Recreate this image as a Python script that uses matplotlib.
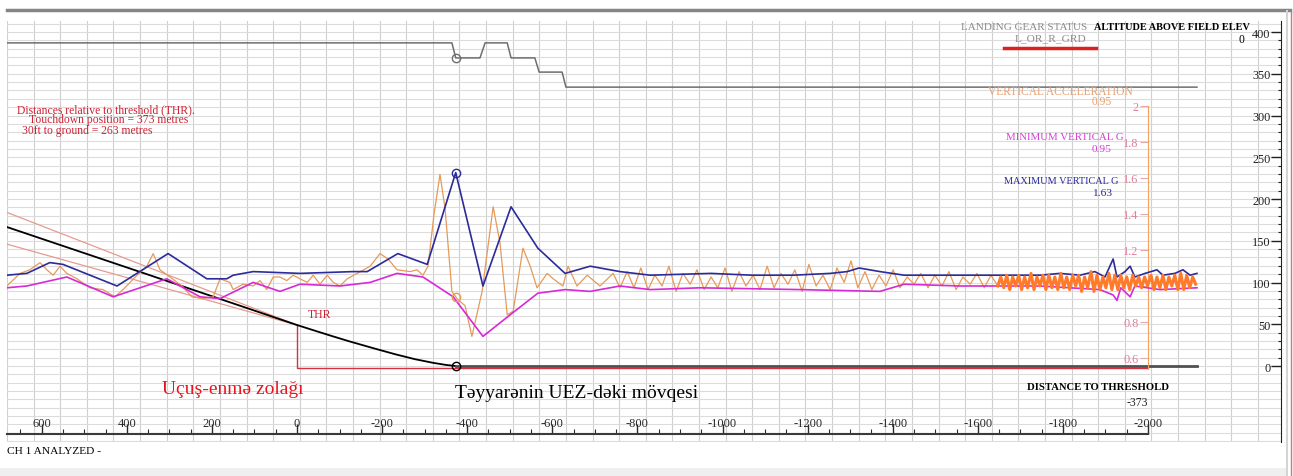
import matplotlib
matplotlib.use('Agg')
import matplotlib.pyplot as plt
from matplotlib.lines import Line2D
from matplotlib.patches import Rectangle
import numpy as np

plt.rcParams['font.family'] = ['Liberation Serif', 'DejaVu Serif']
plt.rcParams['axes.unicode_minus'] = False

# distance to threshold (m), positive = before threshold
touchdown = -373

# landing gear status, drawn on the altitude scale
gear_d = [682, -364, -373, -430, -442, -494, -503, -559, -569, -623, -632, -2115]
gear_v = [387, 387, 369, 369, 387, 387, 369, 369, 352, 352, 334, 334]

# altitude above field elevation (ft)
alt_d = [682, 345, 0, -42, -82, -124, -179, -230, -277, -320, -350, -373]
alt_v = [166.5, 108.6, 49.1, 42.3, 35.9, 29.4, 21.4, 14.2, 8.2, 3.8, 1.3, 0]
ground_d = [-373, -2115]
ground_v = [0, 0]

# glide reference lines
glide_d = [682, 0]
glide_hi = [184, 49]
glide_lo = [146, 49]

# runway marker
rw_d = [0, 0, -2000]
rw_v = [49, -2.5, -2.5]

# maximum vertical g
maxg_d = [682, 635, 581, 550, 423, 303, 212, 165, 150, 103, -7, -132, -165, -237,
          -306, -373, -437, -503, -566, -630, -689, -759, -830, -973, -1069, -1166,
          -1253, -1293, -1321, -1370, -1427, -1504, -1647, -1746, -1793, -1840, -1875,
          -1899, -1918, -1927, -1946, -1958, -1969, -1993, -2021, -2035, -2063, -2082,
          -2099, -2115]
maxg_v = [1.06, 1.07, 1.13, 1.12, 1.00, 1.18, 1.04, 1.04, 1.06, 1.08, 1.07, 1.08, 1.08, 1.18,
          1.12, 1.63, 1.00, 1.44, 1.21, 1.07, 1.11, 1.08, 1.06, 1.07, 1.06, 1.06,
          1.07, 1.08, 1.10, 1.08, 1.06, 1.06, 1.06, 1.06, 1.07, 1.06, 1.08,
          1.05, 1.15, 1.05, 1.08, 1.11, 1.05, 1.07, 1.09, 1.06, 1.07, 1.09,
          1.06, 1.07]

# minimum vertical g
ming_d = [682, 635, 541, 432, 306, 228, 181, 103, 40, -7, -101, -172, -235, -296,
          -367, -437, -501, -566, -630, -689, -759, -830, -947, -1182, -1370, -1427,
          -1558, -1746, -1887, -1918, -1927, -1936, -1958, -1969, -2028, -2115]
ming_v = [0.99, 1.00, 1.05, 0.94, 1.04, 0.94, 0.93, 1.02, 0.97, 1.01, 1.00, 1.02, 1.07, 1.05,
          0.94, 0.72, 0.84, 0.96, 0.98, 0.97, 1.00, 0.98, 0.99, 0.98, 0.97, 1.01,
          1.00, 1.00, 0.98, 0.95, 0.92, 0.99, 0.94, 1.00, 0.98, 0.99]

# vertical acceleration (g)
acc_d = [682, 651, 628, 604, 588, 573, 557, 541, 517, 487, 456, 428, 409, 376, 353, 338,
         322, 299, 270, 247, 223, 197, 181, 158, 150, 127, 103, 87, 71, 56, 40, 24, 9,
         -7, -24, -38, -54, -71, -85, -101, -118, -141, -172, -195, -214, -235, -266,
         -282, -296, -308, -322, -336, -348, -364, -376, -395, -411, -435, -461, -477,
         -494, -508, -531, -548, -564, -588, -602, -625, -637, -658, -682, -712, -743,
         -759,
         -776, -792, -808, -825, -841, -858, -874, -891, -907, -924, -940, -957, -973,
         -989, -1006, -1022, -1039, -1055, -1072, -1088, -1105, -1121, -1137, -1154,
         -1170, -1187, -1203, -1220, -1236, -1253, -1269, -1286, -1302, -1318, -1335,
         -1351, -1368, -1384, -1401, -1417, -1434, -1450, -1466, -1483, -1499, -1516,
         -1532, -1549, -1565, -1582, -1598, -1615, -1631, -1647,
         -1654, -1661, -1668, -1675, -1682, -1689, -1696, -1703, -1710, -1717, -1725,
         -1732, -1739, -1746, -1753, -1760, -1767, -1774, -1781, -1788, -1795, -1802,
         -1809, -1816, -1823, -1830, -1837, -1844, -1851, -1858, -1866, -1873, -1880,
         -1887, -1894, -1901, -1908, -1915, -1922, -1929, -1936, -1943, -1950, -1957,
         -1964, -1971, -1978, -1985, -1992, -1999, -2007, -2014, -2021, -2028, -2035,
         -2042, -2049, -2056, -2063, -2070, -2077, -2084, -2091, -2098, -2105, -2112]
acc_v = [1.00, 1.07, 1.09, 1.13, 1.09, 1.06, 1.11, 1.07, 1.04, 0.99, 0.98, 0.94, 0.98, 1.06, 1.11, 1.18,
         1.09, 1.05, 1.00, 0.94, 0.93, 0.94, 1.04, 1.02, 0.98, 1.01, 1.00, 1.03, 0.98, 1.05, 1.05, 1.03, 1.06,
         1.04, 1.02, 1.06, 1.01, 1.06, 1.02, 1.00, 1.04, 1.07, 1.11, 1.18, 1.15, 1.09, 1.08,
         1.09, 1.06, 1.11, 1.40, 1.62, 1.43, 0.97, 0.93, 0.89, 0.72, 0.97, 1.44, 1.24,
         0.84, 0.86, 1.21, 1.11, 0.99, 1.07, 1.04, 1.00, 1.11, 1.00, 1.06, 1.00, 1.07,
         0.99,
         1.08, 0.99, 1.10, 0.98, 1.06, 1.00, 1.11, 0.97, 1.07, 1.01, 1.09, 0.98, 1.05,
         0.99, 1.10, 0.97, 1.08, 1.00, 1.06, 0.98, 1.11, 0.99, 1.07, 1.01,
         1.09, 0.97, 1.12, 1.00, 1.06, 0.98, 1.10, 1.02, 1.14, 0.99, 1.08,
         0.98, 1.06, 1.00, 1.09, 0.99, 1.05, 1.01, 1.07, 0.99, 1.06, 1.00,
         1.08, 0.98, 1.05, 1.01, 1.07, 0.99, 1.06, 1.00,
         1.05, 0.99, 1.06, 0.98, 1.05, 1.00, 1.06, 0.98, 1.05, 0.99, 1.07,
         0.98, 1.05, 1.00, 1.06, 0.98, 1.06, 0.99, 1.05, 0.98, 1.07, 0.99,
         1.05, 0.98, 1.06, 1.00, 1.06, 0.97, 1.05, 0.99, 1.08, 0.97, 1.06,
         0.98, 1.05, 0.99, 1.07, 0.98, 1.06, 0.98, 1.06, 0.99, 1.05, 0.98,
         1.06, 1.00, 1.05, 0.99, 1.05, 1.00, 1.06, 0.98, 1.05, 0.99, 1.06,
         0.98, 1.05, 1.00, 1.06, 0.98, 1.07, 0.98, 1.06, 0.99, 1.05, 1.01]

# values at the touchdown point
td_gear = 369
td_maxg = 1.63
td_acc = 0.94

x_ticks = list(range(600, -2001, -200))
x_minor = [x for x in range(650, -2001, -50) if x % 200]
alt_ticks = list(range(0, 401, 50))
g_ticks = [0.6, 0.8, 1.0, 1.2, 1.4, 1.6, 1.8, 2.0]
g_labels = ['0.6', '0.8', '', '1.2', '1.4', '1.6', '1.8', '2']

W, H = 1293, 477
fig = plt.figure(figsize=(W / 100, H / 100), dpi=100)


def fx(x):
    return x / W


def fy(y):
    return 1 - y / H


ax = fig.add_axes([fx(7), fy(443), (1282 - 7) / W, (443 - 22) / H])
ax.set_xlim(681.6, -2314.9)
ax.set_ylim(-91.0, 413.2)

# screen grid
for gx in np.arange(681.6, -2316, -62.55):
    ax.axvline(gx, color='#d0d0d0', lw=0.8, zorder=0)
for gy in range(-90, 411, 10):
    ax.axhline(gy, color='#dcdcdc', lw=0.8, zorder=0)

ax.spines['top'].set_visible(False)
ax.spines['right'].set_visible(False)
ax.spines['bottom'].set_position(('data', -81.4))
ax.spines['bottom'].set_bounds(-2000, 681.6)
ax.spines['bottom'].set_color('#3a3a3a')
ax.spines['bottom'].set_linewidth(1.5)
ax.spines['left'].set_position(('data', -2312.6))
ax.spines['left'].set_color('#222222')

ax.set_xticks(x_ticks)
ax.set_xticks(x_minor, minor=True)
ax.tick_params(axis='x', which='major', direction='in', length=7, width=1,
               pad=-12.5, labelsize=9, colors='#2a2a2a')
ax.tick_params(axis='x', which='minor', direction='in', length=3.5, width=0.8,
               colors='#2a2a2a')
ax.set_yticks(alt_ticks)
ax.set_yticks([v for v in range(0, 401, 10) if v % 50], minor=True)
ax.tick_params(axis='y', which='major', direction='out', length=7, width=1,
               pad=0.5, labelsize=8.8, colors='#222222')
ax.tick_params(axis='y', which='minor', direction='out', length=2, width=0.8,
               colors='#222222')

ax.plot(gear_d, gear_v, color='#6e6e6e', lw=1.1, zorder=3)
ax.plot(glide_d, glide_hi, color='#e89a90', lw=0.9, zorder=2)
ax.plot(glide_d, glide_lo, color='#e89a90', lw=0.9, zorder=2)
ax.plot(rw_d, rw_v, color='#d83040', lw=1, zorder=2)
ax.plot(alt_d, alt_v, color='black', lw=1.3, zorder=3)
ax.plot(ground_d, ground_v, color='#505050', lw=2, zorder=3)
ax.plot([touchdown], [td_gear], 'o', ms=6, mfc='none', mec='#6e6e6e', mew=1, zorder=4)
ax.plot([touchdown], [0], 'o', ms=6, mfc='none', mec='black', mew=1, zorder=4)

# vertical acceleration scale
ax2 = ax.twinx()
ax2.set_ylim(0.1333, 2.4722)
for s in ['top', 'right', 'bottom']:
    ax2.spines[s].set_visible(False)
ax2.spines['left'].set_visible(True)
ax2.spines['left'].set_position(('data', -2000))
ax2.spines['left'].set_bounds(0.54, 2.0)
ax2.spines['left'].set_color('#f0a060')
ax2.yaxis.set_ticks_position('left')
ax2.set_yticks(g_ticks)
ax2.set_yticklabels(g_labels)
ax2.tick_params(axis='y', direction='out', length=6, width=0.8, color='#e8a8a8',
                labelcolor='#e0809a', labelsize=8.8, pad=1)

acc_d_arr = np.array(acc_d)
acc_v_arr = np.array(acc_v)
dense = acc_d_arr <= -1647
ax2.plot(acc_d, acc_v, color='#e59a5a', lw=0.9, zorder=2)
ax2.plot(ming_d, ming_v, color='#d62ad6', lw=1.2, zorder=3)
ax2.plot(maxg_d, maxg_v, color='#2b2b9a', lw=1.2, zorder=3)
ax2.plot(acc_d_arr[dense], acc_v_arr[dense], color='#ff7a2a', lw=2.2, zorder=4)
ax2.plot([touchdown], [td_maxg], 'o', ms=6, mfc='none', mec='#2b2b9a', mew=1, zorder=5)
ax2.plot([touchdown], [td_acc], 'o', ms=6, mfc='none', mec='#e59a5a', mew=1, zorder=5)

# window decorations
fig.add_artist(Line2D([fx(7), fx(1290)], [fy(11), fy(11)], color='#858585', lw=2.5))
fig.add_artist(Line2D([fx(1287), fx(1287)], [fy(12), fy(477)], color='#d4d4d4', lw=1.5))
fig.add_artist(Line2D([fx(1291), fx(1291)], [fy(12), fy(477)], color='#e46a7e', lw=1))
fig.add_artist(Rectangle((0, 0), fx(1287), 8 / H, color='#efefef', lw=0))

red = '#cc2233'
txt = dict(va='center', ha='left')
fig.text(fx(17), fy(110), 'Distances relative to threshold (THR).', color=red, fontsize=8.4, **txt)
fig.text(fx(29), fy(120.5), 'Touchdown position = 373 metres', color=red, fontsize=8.4, **txt)
fig.text(fx(22), fy(131), '30ft to ground = 263 metres', color=red, fontsize=8.4, **txt)
fig.text(fx(308), fy(315), 'THR', color=red, fontsize=8.5, **txt)
fig.text(fx(162), fy(390), 'Uçuş-enmə zolağı', color='#e8141e', fontsize=14, **txt)
fig.text(fx(455), fy(393), 'Təyyarənin UEZ-dəki mövqesi', color='black', fontsize=14, **txt)
fig.text(fx(1027), fy(387), 'DISTANCE TO THRESHOLD', color='black', fontsize=7.7,
         fontweight='bold', **txt)
fig.text(fx(1148), fy(403), '-373', color='#222222', fontsize=8.4, va='center', ha='right')
fig.text(fx(961), fy(28), 'LANDING GEAR STATUS', color='#8a8a8a', fontsize=8.0, **txt)
fig.text(fx(1051), fy(39), 'L_OR_R_GRD', color='#8a8a8a', fontsize=8.2, va='center', ha='center')
fig.add_artist(Line2D([fx(1004), fx(1096)], [fy(49), fy(49)], color='#dd2020', lw=2.5))
fig.text(fx(1094), fy(28), 'ALTITUDE ABOVE FIELD ELEV', color='black', fontsize=7.4,
         fontweight='bold', **txt)
fig.text(fx(1244), fy(40), '0', color='black', fontsize=8.4, va='center', ha='right')
fig.text(fx(988), fy(92), 'VERTICAL ACCELERATION', color='#e8a070', fontsize=8.3, **txt)
fig.text(fx(1112), fy(102), '0.95', color='#e8a070', fontsize=8.3, va='center', ha='right')
fig.text(fx(1006), fy(138), 'MINIMUM VERTICAL G', color='#d63cd6', fontsize=7.8, **txt)
fig.text(fx(1112), fy(149), '0.95', color='#d63cd6', fontsize=8.2, va='center', ha='right')
fig.text(fx(1004), fy(181), 'MAXIMUM VERTICAL G', color='#2828a0', fontsize=7.4, **txt)
fig.text(fx(1112), fy(193), '1.63', color='#2828a0', fontsize=8.2, va='center', ha='right')
fig.text(fx(7), fy(452), 'CH 1 ANALYZED -', color='black', fontsize=8.2, **txt)

fig.savefig('out.png', dpi=100)
